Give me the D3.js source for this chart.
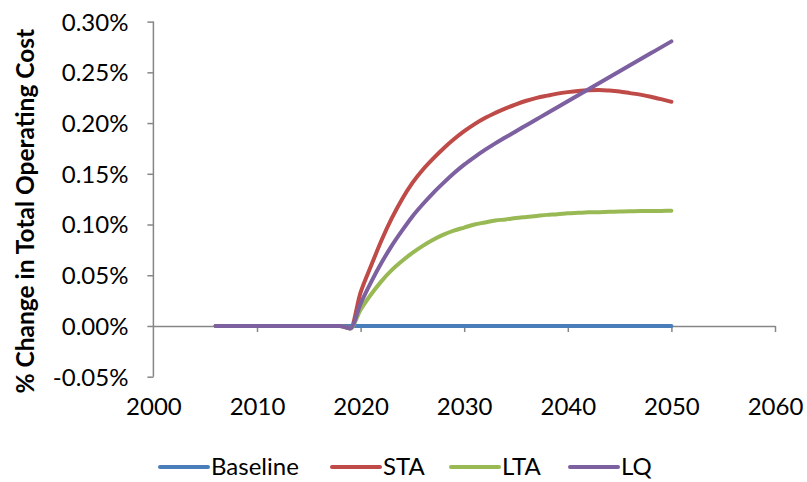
<!DOCTYPE html>
<html>
<head>
<meta charset="utf-8">
<script src="https://cdn.jsdelivr.net/npm/d3@7"></script>
<style>
  body { margin: 0; background: #fff; }
  svg text { font-family: Lato, "Open Sans", sans-serif; fill: #000; }
  .axis path, .axis line { stroke: #868686; stroke-width: 1.5; }
</style>
</head>
<body>
<svg id="chart" width="807" height="482"></svg>
<script>
// years on the x axis
const years = [2006, 2007, 2008, 2009, 2010, 2011, 2012, 2013, 2014, 2015,
  2016, 2017, 2018, 2019, 2020, 2021, 2022, 2023, 2024, 2025,
  2026, 2027, 2028, 2029, 2030, 2031, 2032, 2033, 2034, 2035,
  2036, 2037, 2038, 2039, 2040, 2041, 2042, 2043, 2044, 2045,
  2046, 2047, 2048, 2049, 2050];

// values in percent
const baseline = [0, 0, 0, 0, 0, 0, 0, 0, 0, 0,
  0, 0, 0, 0, 0, 0, 0, 0, 0, 0,
  0, 0, 0, 0, 0, 0, 0, 0, 0, 0,
  0, 0, 0, 0, 0, 0, 0, 0, 0, 0,
  0, 0, 0, 0, 0];
const sta = [0, 0, 0, 0, 0, 0, 0, 0, 0, 0,
  0, 0, 0, -0.0025, 0.033, 0.059, 0.084, 0.106, 0.125, 0.141,
  0.154, 0.165, 0.175, 0.184, 0.192, 0.199, 0.205, 0.210, 0.2145, 0.2185,
  0.222, 0.2248, 0.227, 0.229, 0.2305, 0.2317, 0.2324, 0.2326, 0.232, 0.231,
  0.2295, 0.228, 0.226, 0.2236, 0.221];
const lta = [0, 0, 0, 0, 0, 0, 0, 0, 0, 0,
  0, 0, 0, -0.0025, 0.016, 0.031, 0.044, 0.055, 0.064, 0.072,
  0.079, 0.085, 0.090, 0.094, 0.097, 0.100, 0.102, 0.104, 0.105, 0.1065,
  0.1075, 0.1085, 0.1095, 0.110, 0.111, 0.1115, 0.112, 0.1122, 0.1125, 0.1128,
  0.113, 0.1132, 0.1133, 0.1134, 0.1135];
const lq = [0, 0, 0, 0, 0, 0, 0, 0, 0, 0,
  0, 0, 0, -0.0025, 0.022, 0.043, 0.062, 0.079, 0.094, 0.108,
  0.120, 0.131, 0.141, 0.1505, 0.159, 0.1665, 0.1735, 0.180, 0.186, 0.192,
  0.1979, 0.2038, 0.2097, 0.2156, 0.2215, 0.2274, 0.2333, 0.2392, 0.2451, 0.251,
  0.2569, 0.2628, 0.2687, 0.2746, 0.2805];

const seriesNames = ["Baseline", "STA", "LTA", "LQ"];
const seriesColors = ["#4a7ebb", "#be4b48", "#98b954", "#7d60a0"];
const xTicks = [2000, 2010, 2020, 2030, 2040, 2050, 2060];
const yTicks = [-0.05, 0, 0.05, 0.10, 0.15, 0.20, 0.25, 0.30];

const series = [baseline, sta, lta, lq].map((values, i) => ({
  name: seriesNames[i],
  color: seriesColors[i],
  points: years.map((yr, j) => [yr, values[j]]),
}));

const svg = d3.select("#chart");
const MARGIN = { top: 21.6, right: 32, bottom: 105.3, left: 153.4 };
const width = +svg.attr("width");
const height = +svg.attr("height");

const x = d3.scaleLinear([2000, 2060], [MARGIN.left, width - MARGIN.right]);
const y = d3.scaleLinear([-0.05, 0.30], [height - MARGIN.bottom, MARGIN.top]);

// y axis
const yAxis = svg.append("g")
  .attr("class", "axis")
  .attr("transform", `translate(${x(2000)},0)`)
  .call(d3.axisLeft(y).tickValues(yTicks).tickSize(6).tickSizeOuter(0)
    .tickFormat((d) => d.toFixed(2) + "%"));
yAxis.selectAll("text")
  .attr("x", -25)
  .attr("dy", "0.35em")
  .style("font-size", "24px");
yAxis.select(".domain").attr("d", `M0,${y(0.30)}V${y(-0.05)}`);

// x axis sits on the zero line, labels at the bottom
const xAxis = svg.append("g")
  .attr("class", "axis")
  .attr("transform", `translate(0,${y(0)})`)
  .call(d3.axisBottom(x).tickValues(xTicks).tickSize(6).tickSizeOuter(0)
    .tickFormat(d3.format("d")));
xAxis.selectAll("text")
  .attr("y", y(-0.05) - y(0) + 38)
  .attr("dy", 0)
  .style("font-size", "24px");
xAxis.select(".tick:first-of-type line").remove();

// lines
const line = d3.line()
  .x((d) => x(d[0]))
  .y((d) => y(d[1]))
  .curve(d3.curveMonotoneX);
svg.append("g")
  .selectAll("path")
  .data(series)
  .join("path")
  .attr("d", (d) => line(d.points))
  .attr("fill", "none")
  .attr("stroke", (d) => d.color)
  .attr("stroke-width", 4)
  .attr("stroke-linecap", "round")
  .attr("stroke-linejoin", "round");

// y title
svg.append("text")
  .attr("transform", `translate(34,${(y(0.30) + y(-0.05)) / 2 + 12}) rotate(-90)`)
  .attr("text-anchor", "middle")
  .style("font-size", "24.5px")
  .style("font-weight", "bold")
  .text("% Change in Total Operating Cost");

// legend
const legendX = [160, 332, 451, 570];
const legend = svg.append("g")
  .selectAll("g")
  .data(series)
  .join("g")
  .attr("transform", (d, i) => `translate(${legendX[i]},467)`);
legend.append("line")
  .attr("x1", 0).attr("x2", 48)
  .attr("stroke", (d) => d.color)
  .attr("stroke-width", 4)
  .attr("stroke-linecap", "round");
legend.append("text")
  .attr("x", 51)
  .attr("dy", "0.35em")
  .style("font-size", "24px")
  .text((d) => d.name);
</script>
</body>
</html>
